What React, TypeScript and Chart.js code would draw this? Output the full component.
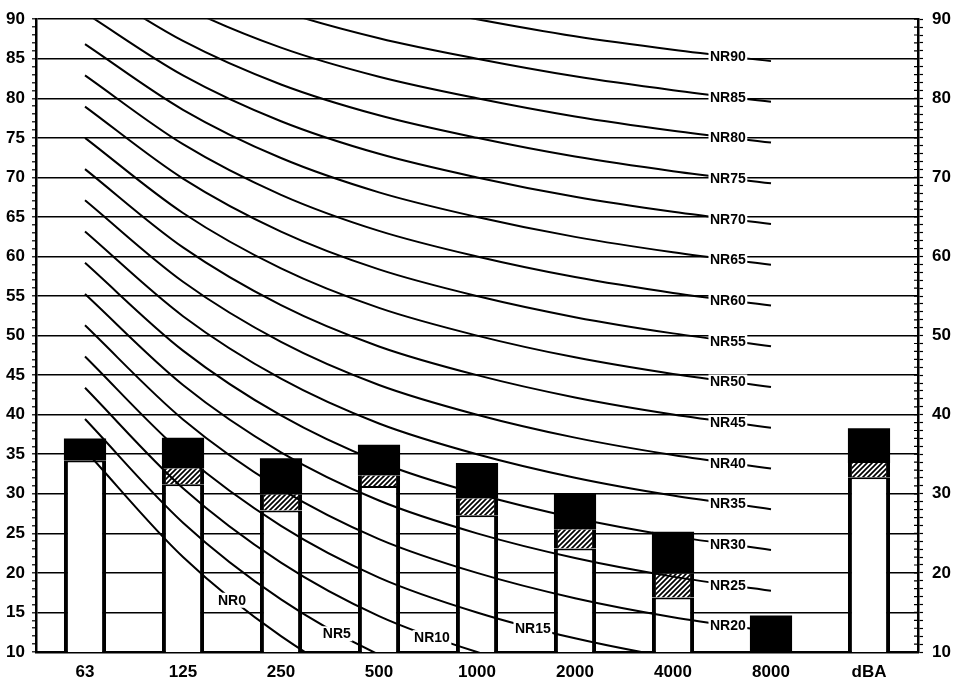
import React, { useEffect, useRef } from "react";
import { Chart, registerables } from "chart.js";

Chart.register(...registerables);

// ---------- data ----------
const CATEGORIES = ["63", "125", "250", "500", "1000", "2000", "4000", "8000", "dBA"];

// bar segment tops (dB): white (lower part), hatched (middle), black (top)
const WHITE_TOP = [34.2, 31.2, 27.9, 31.0, 27.3, 23.1, 16.9, null, 32.1];
const HATCH_TOP = [null, 33.2, 29.9, 32.3, 29.4, 25.5, 19.9, null, 33.9];
const BLACK_TOP = [37.0, 37.1, 34.5, 36.2, 33.9, 30.0, 25.2, 14.6, 38.3];

// NR curves, values at 63 ... 8000 Hz
const NR0 = [35.5, 22.0, 12.0, 4.8, 0.0, -3.5, -6.1, -8.0];
const NR5 = [39.45, 26.35, 16.65, 9.67, 5.0, 1.58, -0.98, -2.85];
const NR10 = [43.4, 30.7, 21.3, 14.54, 10.0, 6.65, 4.15, 2.3];
const NR15 = [47.35, 35.05, 25.95, 19.41, 15.0, 11.73, 9.28, 7.45];
const NR20 = [51.3, 39.4, 30.6, 24.28, 20.0, 16.8, 14.4, 12.6];
const NR25 = [55.25, 43.75, 35.25, 29.15, 25.0, 21.88, 19.53, 17.75];
const NR30 = [59.2, 48.1, 39.9, 34.02, 30.0, 26.95, 24.65, 22.9];
const NR35 = [63.15, 52.45, 44.55, 38.89, 35.0, 32.03, 29.78, 28.05];
const NR40 = [67.1, 56.8, 49.2, 43.76, 40.0, 37.1, 34.9, 33.2];
const NR45 = [71.05, 61.15, 53.85, 48.63, 45.0, 42.18, 40.03, 38.35];
const NR50 = [75.0, 65.5, 58.5, 53.5, 50.0, 47.25, 45.15, 43.5];
const NR55 = [78.95, 69.85, 63.15, 58.37, 55.0, 52.33, 50.28, 48.65];
const NR60 = [82.9, 74.2, 67.8, 63.24, 60.0, 57.4, 55.4, 53.8];
const NR65 = [86.85, 78.55, 72.45, 68.11, 65.0, 62.48, 60.53, 58.95];
const NR70 = [90.8, 82.9, 77.1, 72.98, 70.0, 67.55, 65.65, 64.1];
const NR75 = [94.75, 87.25, 81.75, 77.85, 75.0, 72.63, 70.78, 69.25];
const NR80 = [98.7, 91.6, 86.4, 82.72, 80.0, 77.7, 75.9, 74.4];
const NR85 = [102.65, 95.95, 91.05, 87.59, 85.0, 82.78, 81.03, 79.55];
const NR90 = [106.6, 100.3, 95.7, 92.46, 90.0, 87.85, 86.15, 84.7];

const NR_NAMES = ["NR0", "NR5", "NR10", "NR15", "NR20", "NR25", "NR30", "NR35", "NR40", "NR45", "NR50", "NR55", "NR60", "NR65", "NR70", "NR75", "NR80", "NR85", "NR90"];
const NR_SERIES = [NR0, NR5, NR10, NR15, NR20, NR25, NR30, NR35, NR40, NR45, NR50, NR55, NR60, NR65, NR70, NR75, NR80, NR85, NR90];

const Y_MIN = 10;
const Y_MAX = 90;

// ---------- style ----------
const FONT = '"Liberation Sans", Arial, Helvetica, sans-serif';
// label anchor along x (category index units) for each NR curve
const LABEL_AT = [1.5, 2.57, 3.54, 4.57, 6.56, 6.56, 6.56, 6.56, 6.56, 6.56, 6.56, 6.56, 6.56, 6.56, 6.56, 6.56, 6.56, 6.56, 6.56];

function makeHatch(): CanvasPattern | string {
  const s = 5;
  const c = document.createElement("canvas");
  c.width = s;
  c.height = s;
  const g = c.getContext("2d");
  if (!g) return "#888";
  g.fillStyle = "#fff";
  g.fillRect(0, 0, s, s);
  g.strokeStyle = "#000";
  g.lineWidth = 1.7;
  g.beginPath();
  g.moveTo(-1, s + 1);
  g.lineTo(s + 1, -1);
  g.moveTo(-1, 1);
  g.lineTo(1, -1);
  g.moveTo(s - 1, s + 1);
  g.lineTo(s + 1, s - 1);
  g.stroke();
  return g.createPattern(c, "repeat") || "#888";
}

const nrLabelPlugin = {
  id: "nrLabels",
  afterDatasetsDraw(chart: any) {
    const ctx = chart.ctx;
    const xs = chart.scales.x;
    ctx.save();
    ctx.font = `bold 14px ${FONT}`;
    ctx.textAlign = "center";
    ctx.textBaseline = "middle";
    NR_NAMES.forEach((name, k) => {
      const meta = chart.getDatasetMeta(k);
      if (!meta || !meta.dataset) return;
      const px = xs.getPixelForValue(LABEL_AT[k]);
      let pt = meta.dataset.interpolate({ x: px }, "x");
      if (Array.isArray(pt)) pt = pt[0];
      if (!pt) return;
      const y = pt.y;
      const w = ctx.measureText(name).width + 3;
      ctx.fillStyle = "#fff";
      ctx.fillRect(px - w / 2, y - 7, w, 15);
      ctx.fillStyle = "#000";
      ctx.fillText(name, px, y + 1);
    });
    ctx.restore();
  },
};

// inner half of the right-axis tick marks (they cross the axis line)
const innerTickPlugin = {
  id: "innerTicks",
  afterDraw(chart: any) {
    const s = chart.scales.y2;
    if (!s) return;
    const ctx = chart.ctx;
    ctx.save();
    ctx.strokeStyle = "#000";
    ctx.lineWidth = 1.2;
    ctx.beginPath();
    s.ticks.forEach((t: any) => {
      const y = s.getPixelForValue(t.value);
      ctx.moveTo(s.left - 4, y);
      ctx.lineTo(s.left, y);
    });
    ctx.stroke();
    ctx.restore();
  },
};

export default function App() {
  const ref = useRef<HTMLCanvasElement>(null);

  useEffect(() => {
    const canvas = ref.current;
    if (!canvas) return;
    const hatch = makeHatch();

    const lineSets = NR_SERIES.map((vals, k) => ({
      type: "line" as const,
      label: NR_NAMES[k],
      data: vals,
      borderColor: "#000",
      borderWidth: 2,
      pointRadius: 0,
      fill: false,
      cubicInterpolationMode: "monotone" as const,
      capBezierPoints: false,
      order: 0,
    }));

    const whiteData = WHITE_TOP.map((v) => (v == null ? null : [Y_MIN, v]));
    const hatchData = HATCH_TOP.map((v, i) => (v == null ? null : [WHITE_TOP[i] ?? Y_MIN, v]));
    const blackData = BLACK_TOP.map((v, i) => [HATCH_TOP[i] ?? WHITE_TOP[i] ?? Y_MIN, v]);

    const barCommon = {
      type: "bar" as const,
      grouped: false,
      barPercentage: 0.43,
      categoryPercentage: 1,
      borderSkipped: false as const,
      borderColor: "#000",
      order: 5,
    };

    const tickFont = { family: FONT, size: 17, weight: "bold" as const };

    const chart = new Chart(canvas, {
      type: "bar",
      data: {
        labels: CATEGORIES,
        datasets: [
          ...lineSets,
          { ...barCommon, label: "white", data: whiteData as any, backgroundColor: "#fff", borderWidth: { left: 4, right: 4, top: 2, bottom: 0 } },
          { ...barCommon, label: "hatch", data: hatchData as any, backgroundColor: hatch as any, borderWidth: { left: 4, right: 4, top: 0, bottom: 0 } },
          { ...barCommon, label: "black", data: blackData as any, backgroundColor: "#000", borderWidth: 0 },
        ] as any,
      },
      options: {
        animation: false,
        responsive: true,
        maintainAspectRatio: false,
        devicePixelRatio: 1,
        layout: { padding: { top: 15, left: 0, right: 0, bottom: 0 } },
        plugins: { legend: { display: false }, tooltip: { enabled: false } },
        scales: {
          x: {
            type: "category",
            offset: true,
            grid: { display: false, drawTicks: false },
            border: { display: true, color: "#000", width: 2.5 },
            ticks: { color: "#000", font: tickFont, padding: 10, maxRotation: 0, autoSkip: false },
            afterFit: (s: any) => {
              s.height = 37;
            },
          },
          y: {
            position: "left",
            min: Y_MIN,
            max: Y_MAX,
            ticks: {
              stepSize: 1,
              autoSkip: false,
              color: "#000",
              font: tickFont,
              padding: 7,
              callback: (v: any) => (Number(v) % 5 === 0 ? String(v) : ""),
            },
            grid: {
              color: (c: any) => (c.tick && c.tick.value % 5 === 0 ? "#000" : "rgba(0,0,0,0)"),
              lineWidth: 1.6,
              tickColor: "#000",
              tickLength: 4,
              tickWidth: 1.2,
            },
            border: { display: true, color: "#000", width: 2.5 },
            afterFit: (s: any) => {
              s.width = 36;
            },
          },
          y2: {
            position: "right",
            min: Y_MIN,
            max: Y_MAX,
            ticks: {
              stepSize: 1,
              autoSkip: false,
              color: "#000",
              font: tickFont,
              padding: 9,
              callback: (v: any) => (Number(v) % 10 === 0 ? String(v) : ""),
            },
            grid: { drawOnChartArea: false, tickColor: "#000", tickLength: 5, tickWidth: 1.2 },
            border: { display: true, color: "#000", width: 2.5 },
            afterFit: (s: any) => {
              s.width = 57;
            },
          },
        },
      } as any,
      plugins: [nrLabelPlugin, innerTickPlugin],
    });

    return () => chart.destroy();
  }, []);

  return (
    <div style={{ position: "fixed", left: 0, top: 0, width: 975, height: 689, background: "#fff" }}>
      <canvas ref={ref} />
    </div>
  );
}
